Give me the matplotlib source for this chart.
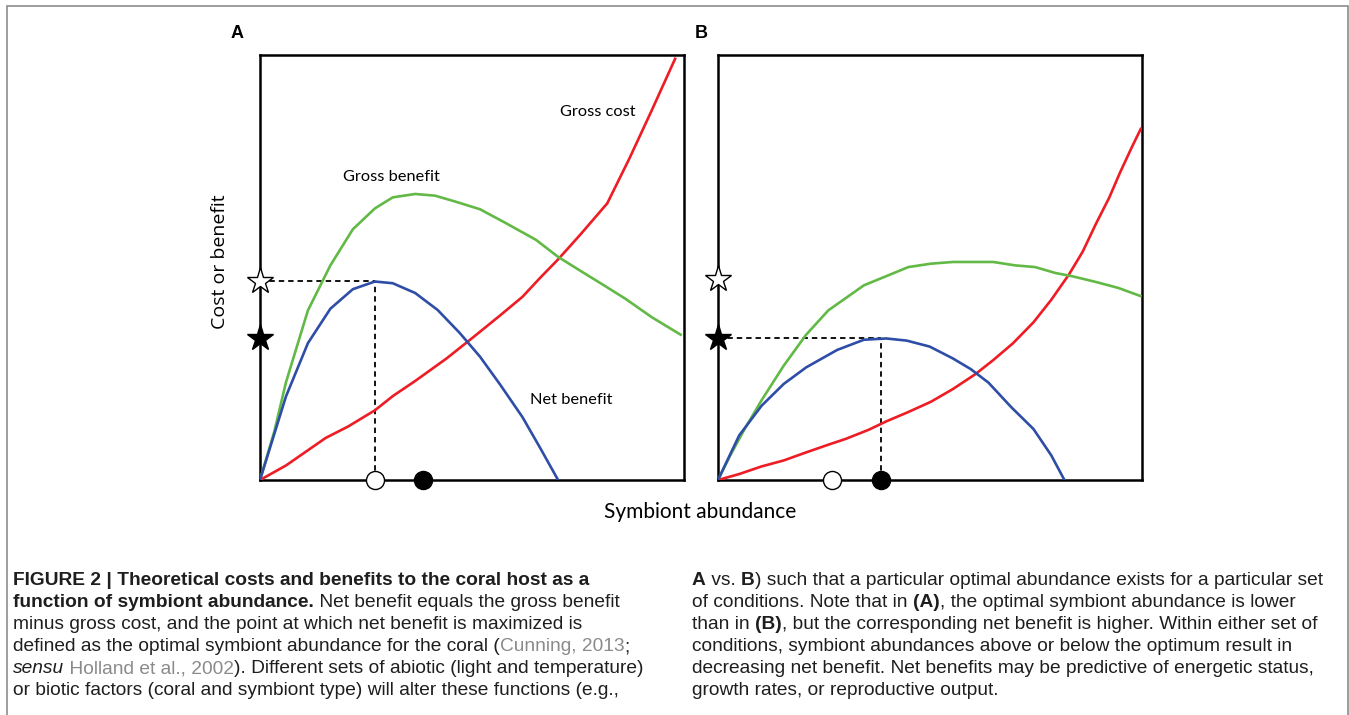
import numpy as np
import matplotlib.pyplot as plt
from matplotlib import font_manager
from matplotlib.font_manager import FontProperties
from matplotlib.transforms import IdentityTransform
from matplotlib.patches import Rectangle

# ---- data (x and y both on a 0-100 scale) ----
a_cost_x = [0, 6.1, 15.5, 20.8, 27.1, 31.4, 36.6, 44.0, 50.3, 56.6, 61.9, 66.1, 70.3, 75.6, 81.9, 87.1, 92.4, 97.9]
a_cost_y = [0, 3.4, 9.9, 12.6, 16.4, 19.8, 23.3, 28.6, 33.6, 38.7, 43.1, 47.6, 51.9, 57.8, 65.1, 75.6, 87.0, 99.1]
a_gross_x = [0, 3.4, 6.1, 11.3, 16.6, 21.9, 27.1, 31.3, 36.6, 41.3, 46.1, 51.9, 57.7, 65.1, 70.3, 75.6, 80.8, 86.1, 92.4, 99.2]
a_gross_y = [0, 11.5, 22.9, 39.9, 50.5, 59.0, 63.9, 66.5, 67.3, 66.9, 65.5, 63.7, 60.6, 56.5, 52.5, 49.2, 46.0, 42.7, 38.3, 34.2]
a_net_x = [0, 6.1, 11.3, 16.6, 21.9, 27.1, 31.3, 36.6, 41.9, 47.1, 51.9, 56.6, 61.9, 66.1, 70.3]
a_net_y = [0, 19.6, 32.2, 40.3, 44.9, 46.7, 46.3, 44.0, 40.0, 34.6, 29.0, 22.5, 14.8, 7.5, 0]

b_cost_x = [0, 5.0, 10.3, 15.5, 20.8, 26.0, 30.2, 35.5, 39.7, 44.9, 50.2, 55.4, 60.7, 64.9, 69.6, 74.4,
            78.6, 82.8, 86.0, 89.1, 92.3, 94.8, 97.6, 99.7]
b_cost_y = [0, 1.4, 3.2, 4.6, 6.5, 8.3, 9.7, 11.8, 13.8, 16.0, 18.4, 21.4, 24.9, 28.2, 32.2, 37.1,
            42.4, 48.4, 53.7, 60.2, 66.5, 72.3, 78.3, 82.6]
b_gross_x = [0, 2.9, 6.0, 10.3, 15.5, 20.8, 26.0, 34.4, 44.9, 50.2, 55.4, 64.9, 70.1, 74.8, 79.6, 83.3, 89.1, 94.4, 99.6]
b_gross_y = [0, 5.8, 11.5, 18.8, 26.9, 34.2, 39.9, 45.8, 50.1, 50.9, 51.3, 51.3, 50.5, 50.1, 48.7, 48.0, 46.6, 45.2, 43.3]
b_net_x = [0, 5.0, 10.3, 15.5, 20.8, 28.1, 34.4, 39.7, 44.5, 49.9, 55.4, 59.6, 63.8, 69.1, 74.4, 78.6, 81.7]
b_net_y = [0, 10.5, 17.5, 22.6, 26.5, 30.6, 33.0, 33.3, 32.8, 31.4, 28.6, 26.1, 22.9, 17.2, 12.0, 5.8, 0]

# optimum markers: (open star y, filled star y, open circle x, filled circle x)
open_star_y = [46.8, 47.3]
filled_star_y = [33.4, 33.4]
open_circle_x = [27.1, 26.8]
filled_circle_x = [38.4, 38.4]
opt_x = [27.1, 38.4]
opt_y = [46.8, 33.4]

W, H = 1349, 715
RED, GREEN, BLUE = '#EE1C24', '#62B946', '#2E4DA7'


def pick_font(names):
    have = {f.name for f in font_manager.fontManager.ttflist}
    for n in names:
        if n in have:
            return n
    return 'DejaVu Sans'


cap_font = pick_font(['Liberation Sans Narrow', 'DejaVu Sans Condensed', 'Liberation Sans'])
lbl_font = pick_font(['Lato', 'Open Sans'])

fig = plt.figure(figsize=(W / 100, H / 100), dpi=100)
renderer = fig.canvas.get_renderer()
px = IdentityTransform()

# grey frame round the figure
fig.patches.append(Rectangle((6.5, -10), 1341, H - 5.5 + 10, transform=px,
                             fill=False, ec='#8c8c8c', lw=1.2))

panels = [
    (260, a_cost_x, a_cost_y, a_gross_x, a_gross_y, a_net_x, a_net_y),
    (718, b_cost_x, b_cost_y, b_gross_x, b_gross_y, b_net_x, b_net_y),
]

for i, (left, cx, cy, gx, gy, nx, ny) in enumerate(panels):
    ax = fig.add_axes([left / W, (H - 480) / H, 424 / W, 425 / H])
    ax.set_xlim(0, 100)
    ax.set_ylim(0, 100)
    ax.set_xticks([])
    ax.set_yticks([])
    for sp in ax.spines.values():
        sp.set_linewidth(1.8)
        sp.set_color('black')

    ax.plot(cx, cy, color=RED, lw=1.9, zorder=3)
    ax.plot(gx, gy, color=GREEN, lw=1.9, zorder=3)
    ax.plot(nx, ny, color=BLUE, lw=1.9, zorder=3)

    # dashed guides to the optimum
    ax.plot([0, opt_x[i]], [opt_y[i], opt_y[i]], color='black', lw=1.3, ls=(0, (3, 2.2)), zorder=2)
    ax.plot([opt_x[i], opt_x[i]], [0, opt_y[i]], color='black', lw=1.3, ls=(0, (3, 2.2)), zorder=2)

    ax.plot([0], [open_star_y[i]], marker='*', ms=20, mfc='white', mec='black', mew=1.0,
            clip_on=False, zorder=5)
    ax.plot([0], [filled_star_y[i]], marker='*', ms=20, mfc='black', mec='black', mew=1.0,
            clip_on=False, zorder=5)
    ax.plot([open_circle_x[i]], [0], marker='o', ms=13, mfc='white', mec='black', mew=1.0,
            clip_on=False, zorder=5)
    ax.plot([filled_circle_x[i]], [0], marker='o', ms=13, mfc='black', mec='black', mew=1.0,
            clip_on=False, zorder=5)

    if i == 0:
        ax.text(79.7, 86.6, 'Gross cost', family=lbl_font, fontsize=11.8, ha='center', va='center')
        ax.text(31.1, 71.3, 'Gross benefit', family=lbl_font, fontsize=11.8, ha='center', va='center')
        ax.text(73.3, 18.8, 'Net benefit', family=lbl_font, fontsize=11.8, ha='center', va='center')

fig.text(237, H - 33, 'A', transform=px, family='Liberation Sans', weight='bold', fontsize=13,
         ha='center', va='center')
fig.text(701, H - 33, 'B', transform=px, family='Liberation Sans', weight='bold', fontsize=13,
         ha='center', va='center')
fig.text(220, H - 262, 'Cost or benefit', transform=px, family='Open Sans', fontsize=14,
         rotation=90, ha='center', va='center')
fig.text(700, H - 512, 'Symbiont abundance', transform=px, family=lbl_font, fontsize=15,
         ha='center', va='center')

# ---- caption ----
left_col = [
    [('FIGURE 2 | Theoretical costs and benefits to the coral host as a', 'b')],
    [('function of symbiont abundance.', 'b'), (' Net benefit equals the gross benefit', '')],
    [('minus gross cost, and the point at which net benefit is maximized is', '')],
    [('defined as the optimal symbiont abundance for the coral (', ''), ('Cunning, 2013', 'g'), (';', '')],
    [('sensu', 'i'), (' Holland et al., 2002', 'g'),
     ('). Different sets of abiotic (light and temperature)', '')],
    [('or biotic factors (coral and symbiont type) will alter these functions (e.g.,', '')],
]
right_col = [
    [('A', 'b'), (' vs. ', ''), ('B', 'b'), (') such that a particular optimal abundance exists for a particular set', '')],
    [('of conditions. Note that in ', ''), ('(A)', 'b'), (', the optimal symbiont abundance is lower', '')],
    [('than in ', ''), ('(B)', 'b'), (', but the corresponding net benefit is higher. Within either set of', '')],
    [('conditions, symbiont abundances above or below the optimum result in', '')],
    [('decreasing net benefit. Net benefits may be predictive of energetic status,', '')],
    [('growth rates, or reproductive output.', '')],
]
baselines = [585, 607, 629, 651, 673, 695]


def advance(s, prop):
    # pen advance of s, measured between two full stops
    w1 = renderer.get_text_width_height_descent('.' + s + '.', prop, ismath=False)[0]
    w0 = renderer.get_text_width_height_descent('..', prop, ismath=False)[0]
    return w1 - w0


def draw_runs(x, y, runs, size=13.8):
    for s, style in runs:
        prop = FontProperties(family=cap_font, size=size,
                              weight='bold' if 'b' in style else 'normal',
                              style='italic' if 'i' in style else 'normal')
        color = '#8a8a8a' if 'g' in style else '#1e1e1e'
        fig.text(x, H - y, s, fontproperties=prop, color=color, transform=px,
                 ha='left', va='baseline')
        x += advance(s, prop)


for runs, y in zip(left_col, baselines):
    draw_runs(13, y, runs)
for runs, y in zip(right_col, baselines):
    draw_runs(692, y, runs)

fig.savefig('out.png', dpi=100)
